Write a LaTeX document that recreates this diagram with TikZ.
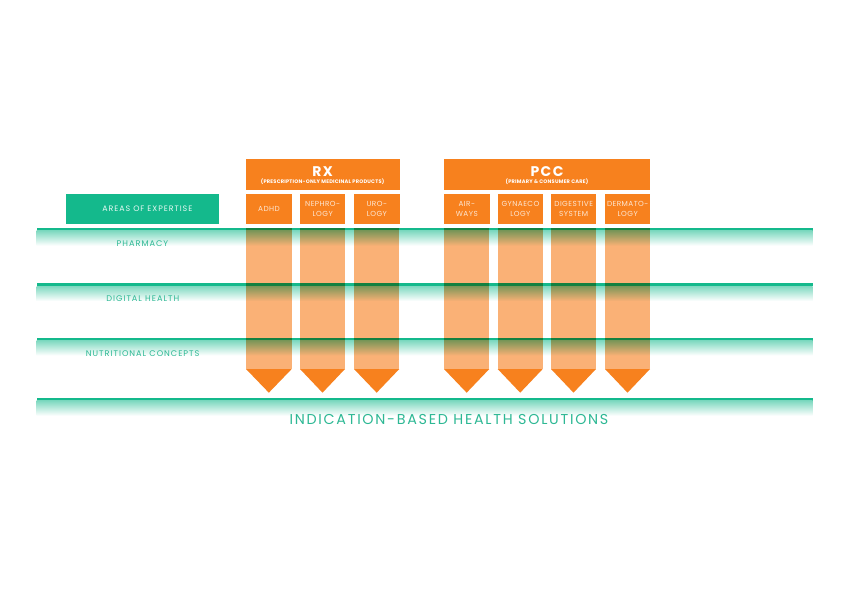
\documentclass[tikz,border=0pt]{standalone}
\usepackage{fontspec}
\setmainfont{Poppins}
\newfontfamily\lblfont[LetterSpace=12]{Poppins}
\newfontfamily\boxfont[LetterSpace=6]{Poppins}
\newfontfamily\boldfont[LetterSpace=10]{Poppins Bold}
\newfontfamily\subfont[LetterSpace=4]{Poppins Bold}
\definecolor{teal}{HTML}{14B98C}
\definecolor{tealtxt}{HTML}{2DB894}
\definecolor{orng}{HTML}{F7811E}
\definecolor{lorng}{HTML}{FAB176}
\definecolor{subtxt}{HTML}{FDE6D2}
\tikzset{
  hdr/.style={fill=orng, draw=none, inner sep=0pt, anchor=north west},
  subbox/.style={fill=orng, draw=none, inner sep=0pt, anchor=north west, minimum height=30.7pt, text=subtxt, align=center, font=\boxfont\fontsize{7.3}{10}\selectfont},
  rowlbl/.style={text=tealtxt, font=\lblfont\fontsize{8.2}{9}\selectfont, inner sep=0pt},
  body/.style={fill=lorng, draw=none},
  tip/.style={fill=orng, draw=none}
}
\begin{document}
\begin{tikzpicture}[x=1pt,y=-1pt]
\useasboundingbox (0,0) rectangle (849,600);
\fill[white] (0,0) rectangle (849,600);
% green lines
\foreach \yy in {227.7,283,337.5,397.8}{
  \fill[teal] (36.7,\yy) rectangle (812.7,\yy+3);
  \shade[top color=teal!55, bottom color=white] (36.7,\yy+3) rectangle (812.7,\yy+18);
}
% areas box
\node[fill=teal, inner sep=0pt, anchor=north west, minimum width=152.7pt, minimum height=30.7pt] (areas) at (66,193.3) {};
\node[text=white!90!teal, font=\lblfont\fontsize{7.9}{8}\selectfont, inner sep=0pt] (areastxt) at (147.3,209) {AREAS OF EXPERTISE};
% row labels
\node[rowlbl] (pharm) at (142.5,244) {PHARMACY};
\node[rowlbl] (digi) at (142.8,298.5) {DIGITAL HEALTH};
\node[rowlbl] (nutri) at (142.7,354) {NUTRITIONAL CONCEPTS};
% headers
\node[hdr, minimum width=153.3pt, minimum height=31pt] (rx) at (246,158.3) {};
\node[text=white, font=\boldfont\fontsize{14}{14}\selectfont, inner sep=0pt] (rxt) at (322.6,171.2) {RX};
\node[text=white, font=\subfont\fontsize{5.1}{5}\selectfont, inner sep=0pt] (rxs) at (322.6,182) {(PRESCRIPTION-ONLY MEDICINAL PRODUCTS)};
\node[hdr, minimum width=206pt, minimum height=31pt] (pcc) at (444,158.3) {};
\node[text=white, font=\boldfont\fontsize{14}{14}\selectfont, inner sep=0pt] (pcct) at (547,171.2) {PCC};
\node[text=white, font=\subfont\fontsize{5.1}{5}\selectfont, inner sep=0pt] (pccs) at (547,182) {(PRIMARY \& CONSUMER CARE)};
% sub boxes and arrows
\foreach \nm/\xa/\xb/\txt in {adhd/246/291.7/ADHD, neph/300/345/NEPHRO-\\LOGY, uro/354/399.3/URO-\\LOGY, air/444/489.3/AIR-\\WAYS, gyn/497.7/542.7/GYNAECO\\LOGY, dig/551/596/DIGESTIVE\\SYSTEM, derm/605/650/DERMATO-\\LOGY}{
  \pgfmathsetmacro{\ww}{\xb-\xa}
  \node[subbox, minimum width=\ww pt] (\nm) at (\xa,193.3) {\txt};
  \begin{scope}[blend mode=multiply]
    \fill[body] (\xa,228) rectangle (\xb,369);
  \end{scope}
  \fill[tip] (\xa,369) -- (\xb,369) -- ({(\xa+\xb)/2},392.7) -- cycle;
}
% bottom title
\node[text=tealtxt, font=\lblfont\fontsize{14.3}{15}\selectfont, inner sep=0pt] (ibhs) at (449,419) {INDICATION-BASED HEALTH SOLUTIONS};
\end{tikzpicture}
\end{document}
